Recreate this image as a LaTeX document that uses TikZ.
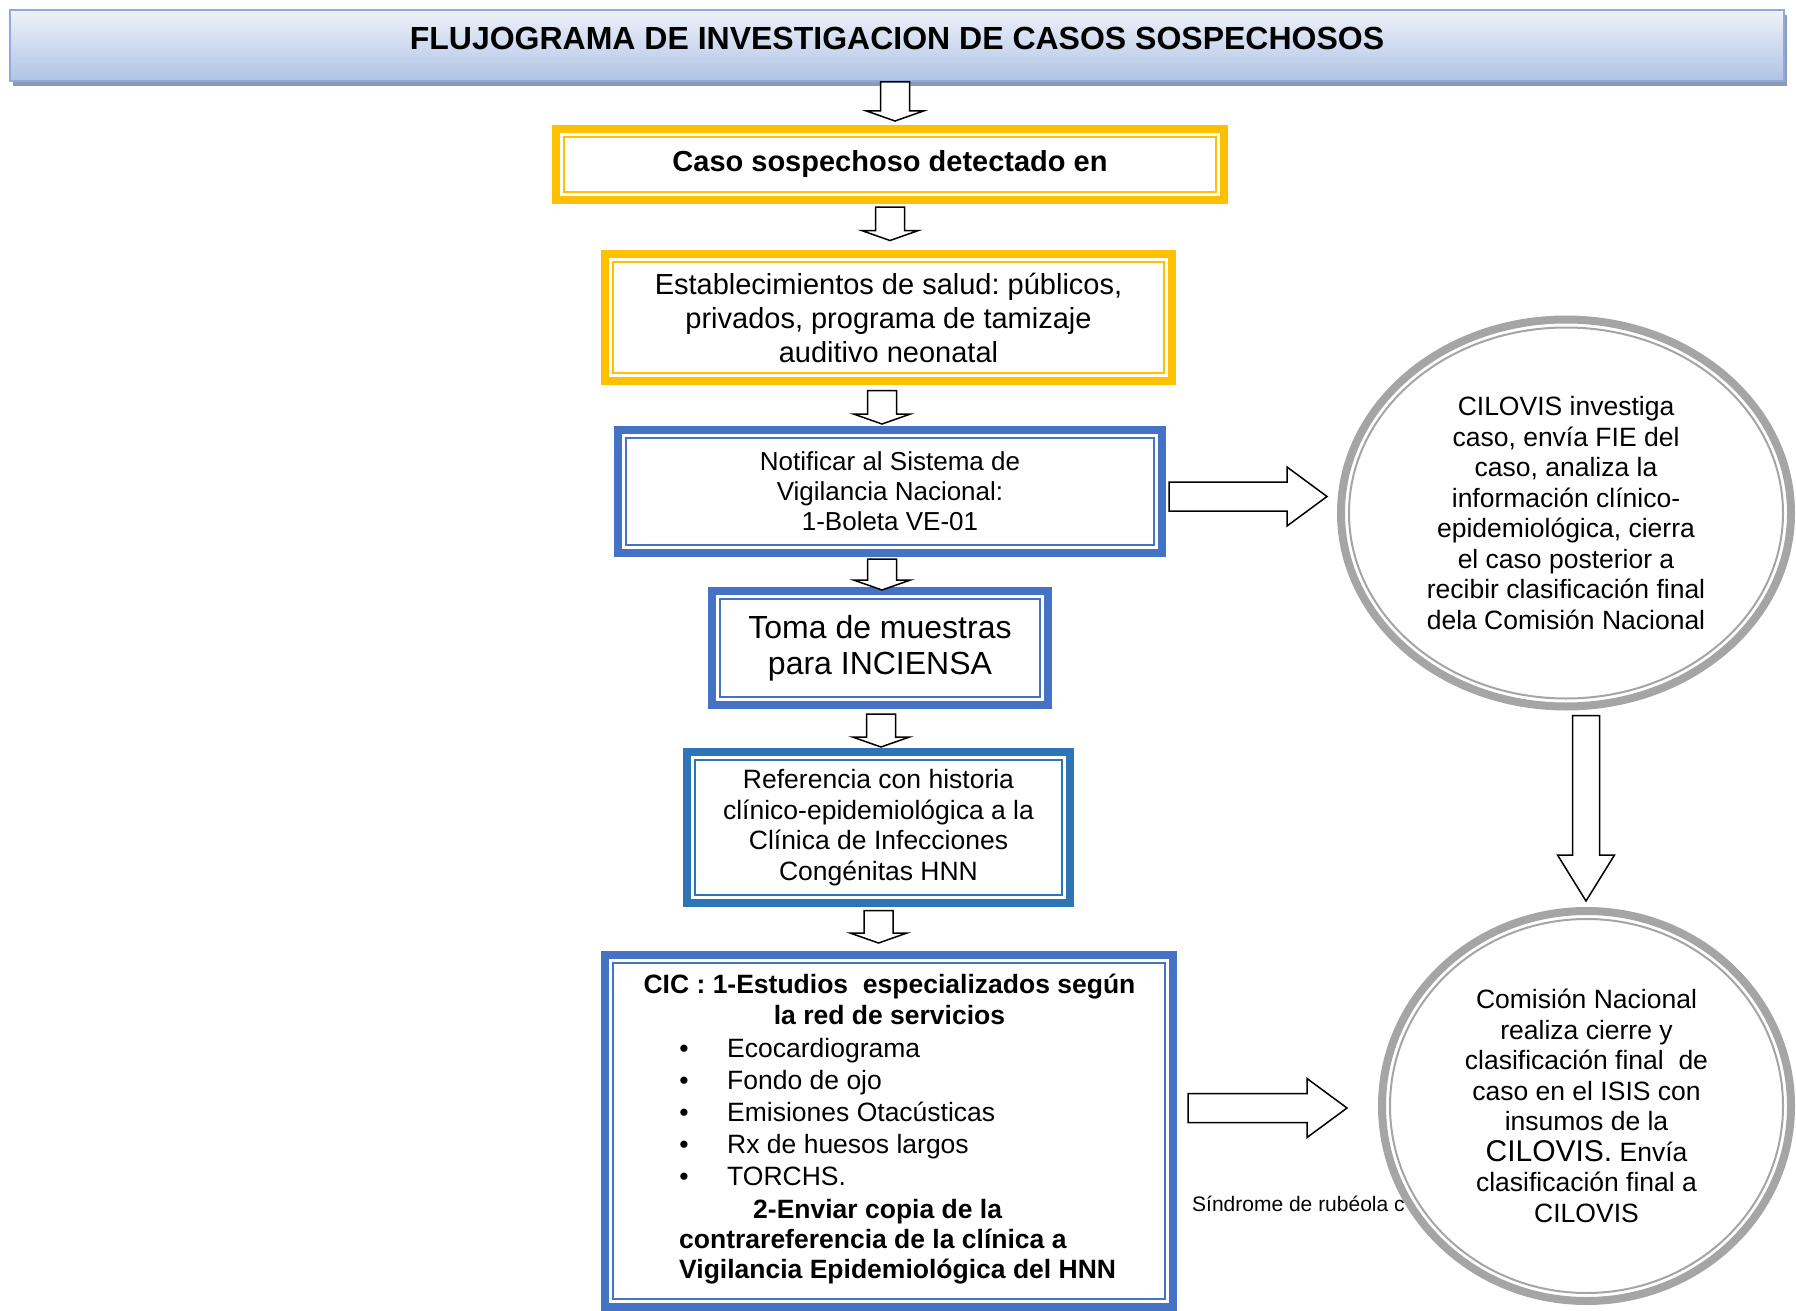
\documentclass[tikz,border=0pt]{standalone}
\usepackage{fontspec}
\setmainfont{Liberation Sans}
\frenchspacing
\usetikzlibrary{calc,shapes.geometric,shadows}
\definecolor{goldline}{HTML}{FFC000}
\definecolor{blueline}{HTML}{4472C4}
\definecolor{steelline}{HTML}{2E75B6}
\definecolor{ringgrey}{HTML}{A5A5A5}
\definecolor{headtop}{HTML}{EEF2F9}
\definecolor{headbot}{HTML}{AFC3E6}
\definecolor{headline}{HTML}{8FAADC}
\definecolor{headshadow}{HTML}{8C9BB3}
\tikzset{
  headbar/.style={rectangle, draw=headline, line width=2pt, top color=headtop, bottom color=headbot,
    drop shadow={shadow xshift=3pt, shadow yshift=-5pt, fill=headshadow, opacity=1},
    inner sep=0pt, text height=23pt, text depth=15pt, font=\fontsize{32}{36}\selectfont\bfseries},
  dblbox/.style={rectangle, draw=#1, line width=8pt, fill=white, inner sep=0pt, align=center,
    path picture={\draw[#1, line width=2pt] ([shift={(8pt,8pt)}]path picture bounding box.south west)
      rectangle ([shift={(-8pt,-8pt)}]path picture bounding box.north east);}},
  dblring/.style 2 args={ellipse, draw=ringgrey, line width=8pt, fill=white, inner sep=0pt, align=center,
    minimum width=#1, minimum height=#2,
    path picture={\draw[ringgrey, line width=2pt] (path picture bounding box.center)
      ellipse [x radius=#1/2-8pt, y radius=#2/2-8pt];}},
  hollowarrow/.style={draw=black, fill=white, line width=1.5pt, line join=miter},
  cicline/.style={inner sep=0pt, text height=19pt, text depth=5pt, font=\fontsize{26.5}{30.5}\selectfont},
  cicbold/.style={cicline, font=\fontsize{26.5}{30.5}\selectfont\bfseries}
}
% start, end, shaft half width, head half width, head length
\newcommand{\fatarrow}[5]{%
  \path (#1) coordinate (fa-s) (#2) coordinate (fa-e);
  \path ($(fa-e)!#5!(fa-s)$) coordinate (fa-h);
  \draw[hollowarrow] ($(fa-s)!#3!90:(fa-e)$) -- ($(fa-h)!#3!90:(fa-e)$) -- ($(fa-h)!#4!90:(fa-e)$)
    -- (fa-e) -- ($(fa-h)!#4!-90:(fa-e)$) -- ($(fa-h)!#3!-90:(fa-e)$) -- ($(fa-s)!#3!-90:(fa-e)$) -- cycle;
}
\begin{document}
\begin{tikzpicture}[x=1pt, y=-1pt] % flujograma
  \useasboundingbox (0,0) rectangle (1796,1311);
  \node[headbar, minimum width=1774pt, minimum height=71pt] (title) at (897,45.5) {FLUJOGRAMA DE INVESTIGACION DE CASOS SOSPECHOSOS};

  \node[dblbox=goldline, minimum width=668pt, minimum height=71pt, font=\fontsize{29}{34}\selectfont\bfseries] (b1) at (890,164.5) {Caso sospechoso detectado en};
  \node[dblbox=goldline, minimum width=567pt, minimum height=127pt, font=\fontsize{29}{34}\selectfont] (b2) at (888.5,317.5) {Establecimientos de salud: públicos,\\ privados, programa de tamizaje\\ auditivo neonatal};
  \node[dblbox=blueline, minimum width=544pt, minimum height=123pt, font=\fontsize{26}{30}\selectfont] (b3) at (890,491.5) {Notificar al Sistema de\\ Vigilancia Nacional:\\ 1-Boleta VE-01};
  \node[dblbox=blueline, minimum width=336pt, minimum height=114pt, font=\fontsize{32}{36.5}\selectfont] (b4) at (880,648) {Toma de muestras\\ para INCIENSA};
  \node[dblbox=steelline, minimum width=383pt, minimum height=151pt, font=\fontsize{26.5}{30.5}\selectfont] (b5) at (878.5,827.5) {Referencia con historia\\ clínico-epidemiológica a la\\ Clínica de Infecciones\\ Congénitas HNN};
  \node[dblbox=blueline, minimum width=568pt, minimum height=352pt] (b6) at (889,1131) {};

  \node[cicbold] (cic1) at (889.5,986) {CIC : 1-Estudios\ \ especializados según};
  \node[cicbold] (cic2) at (889.5,1017) {la red de servicios};
  \foreach \entry [count=\i] in {Ecocardiograma, Fondo de ojo, Emisiones Otacústicas, Rx de huesos largos, TORCHS.}{
    \node[cicline] (dot\i) at (684,1018+32*\i) {\textbullet};
    \node[cicline, anchor=west] (exam\i) at (727,1018+32*\i) {\entry};
  }
  \node[cicbold, anchor=west] (send1) at (753,1211) {2-Enviar copia de la};
  \node[cicbold, anchor=west] (send2) at (679,1241) {contrareferencia de la clínica a};
  \node[cicbold, anchor=west] (send3) at (679,1271) {Vigilancia Epidemiológica del HNN};

  \node[dblring={450pt}{387pt}, font=\fontsize{26.5}{30.5}\selectfont] (c1) at (1566,513) {CILOVIS investiga\\ caso, envía FIE del\\ caso, analiza la\\ información clínico-\\ epidemiológica, cierra\\ el caso posterior a\\ recibir clasificación final\\ dela Comisión Nacional};
  \node[font=\fontsize{21}{25}\selectfont, anchor=west, inner sep=0pt] (note) at (1192,1204) {Síndrome de rubéola c};
  \node[dblring={409pt}{390pt}, font=\fontsize{26.5}{30.5}\selectfont] (c2) at (1586.5,1106) {Comisión Nacional\\ realiza cierre y\\ clasificación final\ \ de\\ caso en el ISIS con\\ insumos de la\\ {\fontsize{30}{34}\selectfont CILOVIS.} Envía\\ clasificación final a\\ CILOVIS};

  \fatarrow{[xshift=-2pt]title.south}{[shift={(5pt,4pt)}]b1.north}{14.5pt}{28.5pt}{10pt}
  \fatarrow{[yshift=-3pt]b1.south}{[shift={(1.5pt,9.5pt)}]b2.north}{14.5pt}{28.5pt}{10pt}
  \fatarrow{[shift={(-6.5pt,-5.5pt)}]b2.south}{[shift={(-8pt,2pt)}]b3.north}{14.5pt}{28.5pt}{10pt}
  \fatarrow{[shift={(-8pt,-2pt)}]b3.south}{[shift={(2pt,-3pt)}]b4.north}{14.5pt}{28.5pt}{10pt}
  \fatarrow{[shift={(1pt,-5pt)}]b4.south}{[shift={(2.5pt,1pt)}]b5.north}{14.5pt}{28.5pt}{10pt}
  \fatarrow{[yshift=-3.5pt]b5.south}{[shift={(-10.5pt,8pt)}]b6.north}{14.5pt}{28.5pt}{10pt}
  \fatarrow{[shift={(3pt,-5pt)}]b3.east}{[shift={(-10pt,16.5pt)}]c1.west}{14.5pt}{29.5pt}{40pt}
  \fatarrow{[shift={(11pt,23pt)}]b6.east}{[shift={(-31pt,-2pt)}]c2.west}{14.5pt}{29.5pt}{40pt}
  \fatarrow{[shift={(20pt,-5pt)}]c1.south}{[shift={(-0.5pt,6pt)}]c2.north}{13.5pt}{28.5pt}{46pt}
\end{tikzpicture}
\end{document}
